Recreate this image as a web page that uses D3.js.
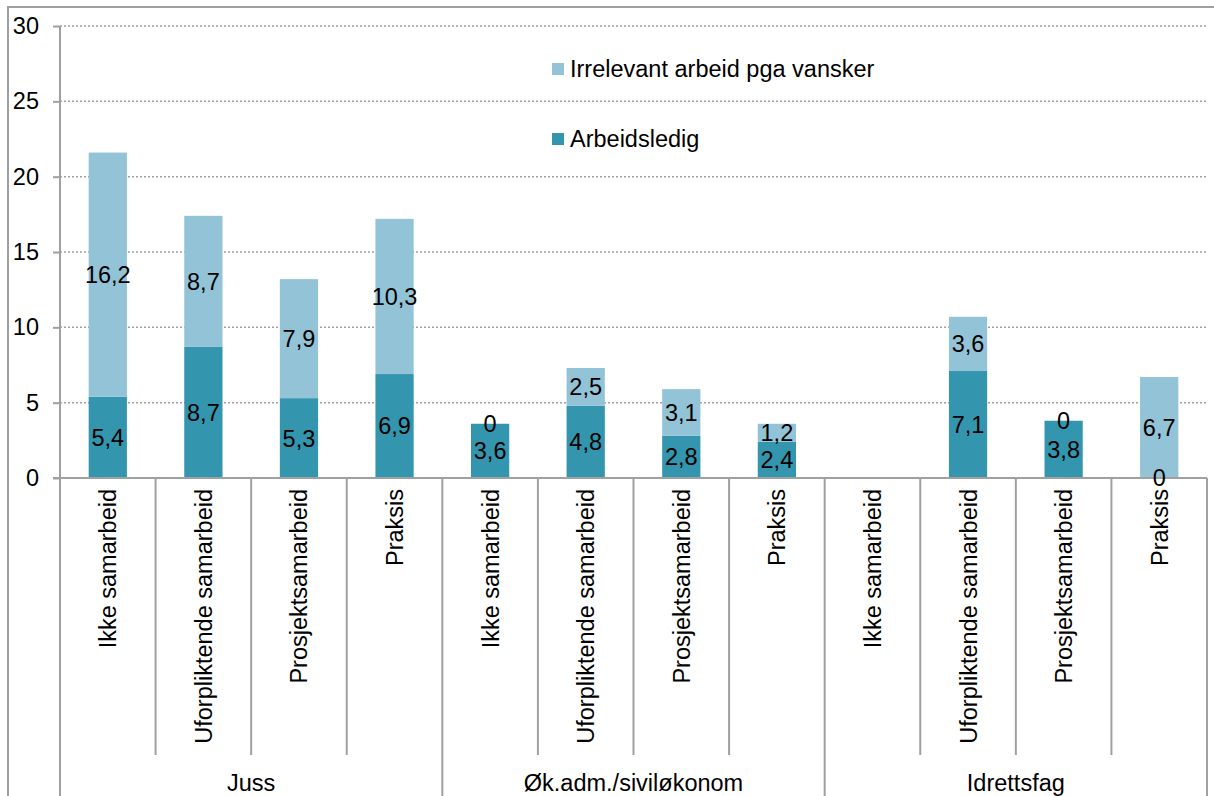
<!DOCTYPE html>
<html>
<head>
<meta charset="utf-8">
<script src="https://cdn.jsdelivr.net/npm/d3@7"></script>
<style>
  body { margin: 0; background: #fff; }
  svg { display: block; font-family: "Liberation Sans", Arial, sans-serif; }
</style>
</head>
<body>
<script>
// data
let groups = ['Juss', 'Øk.adm./siviløkonom', 'Idrettsfag'];
let categories = ['Ikke samarbeid', 'Uforpliktende samarbeid', 'Prosjektsamarbeid', 'Praksis'];
let arbeidsledig = [5.4, 8.7, 5.3, 6.9, 3.6, 4.8, 2.8, 2.4, null, 7.1, 3.8, 0];
let irrelevant = [16.2, 8.7, 7.9, 10.3, 0, 2.5, 3.1, 1.2, null, 3.6, 0, 6.7];
let seriesNames = ['Irrelevant arbeid pga vansker', 'Arbeidsledig'];
let yTicks = [0, 5, 10, 15, 20, 25, 30];

let width = 1214, height = 796;
let left = 60, right = 1207, plotTop = 26, base = 478;
let dark = '#3395ae', light = '#92c3d6', gray = '#a0a0a0';
let fs = '23.5px';

let svg = d3.select('body').append('svg')
    .attr('width', width)
    .attr('height', height);

// chart frame
svg.append('rect')
    .attr('x', 8).attr('y', 7)
    .attr('width', 1300).attr('height', 900)
    .attr('fill', 'none')
    .attr('stroke', gray)
    .attr('stroke-width', 2);

let slots = [];
groups.forEach(function(g, gi) {
    categories.forEach(function(c, ci) {
        slots.push({group: g, cat: c, i: gi * categories.length + ci});
    });
});

let x = d3.scaleBand().domain(d3.range(slots.length)).range([left, right]).padding(0);
let y = d3.scaleLinear().domain([0, 30]).range([base, plotTop]);
let bw = x.bandwidth() * 0.4;

// gridlines
svg.selectAll('line.grid')
    .data(yTicks.filter(function(d) { return d > 0; }))
    .enter()
    .append('line')
    .attr('class', 'grid')
    .attr('x1', left).attr('x2', right)
    .attr('y1', function(d) { return y(d); })
    .attr('y2', function(d) { return y(d); })
    .attr('stroke', gray)
    .attr('stroke-width', 1.5)
    .attr('stroke-dasharray', '2,2');

// y axis
let axisY = d3.axisLeft(y).tickValues(yTicks).tickSize(7).tickPadding(14);
let gy = svg.append('g').attr('transform', `translate(${left},0)`).call(axisY);
gy.select('.domain').remove();
gy.selectAll('.tick line').attr('stroke', gray).attr('stroke-width', 2);
gy.selectAll('.tick text').attr('font-size', fs).attr('fill', '#000')
    .attr('font-family', '"Liberation Sans", Arial, sans-serif');
svg.append('line')
    .attr('x1', left).attr('x2', left)
    .attr('y1', plotTop).attr('y2', height + 5)
    .attr('stroke', gray).attr('stroke-width', 2);

// bars
svg.selectAll('rect.arb')
    .data(slots.filter(function(d) { return arbeidsledig[d.i] != null; }))
    .enter()
    .append('rect')
    .attr('class', 'arb')
    .attr('x', function(d) { return x(d.i) + (x.bandwidth() - bw) / 2; })
    .attr('y', function(d) { return y(arbeidsledig[d.i]); })
    .attr('width', bw)
    .attr('height', function(d) { return base - y(arbeidsledig[d.i]); })
    .attr('fill', dark);

svg.selectAll('rect.irr')
    .data(slots.filter(function(d) { return irrelevant[d.i] != null; }))
    .enter()
    .append('rect')
    .attr('class', 'irr')
    .attr('x', function(d) { return x(d.i) + (x.bandwidth() - bw) / 2; })
    .attr('y', function(d) { return y((arbeidsledig[d.i] || 0) + irrelevant[d.i]); })
    .attr('width', bw)
    .attr('height', function(d) { return y(arbeidsledig[d.i] || 0) - y((arbeidsledig[d.i] || 0) + irrelevant[d.i]); })
    .attr('fill', light);

// x axis line
svg.append('line')
    .attr('x1', left - 7).attr('x2', right)
    .attr('y1', base).attr('y2', base)
    .attr('stroke', gray).attr('stroke-width', 2);

function fmt(v) { return String(v).replace('.', ','); }

// value labels
svg.selectAll('text.arbval')
    .data(slots.filter(function(d) { return arbeidsledig[d.i] != null; }))
    .enter()
    .append('text')
    .attr('class', 'arbval')
    .attr('text-anchor', 'middle')
    .attr('font-size', fs)
    .attr('x', function(d) { return x(d.i) + x.bandwidth() / 2; })
    .attr('y', function(d) { return y(arbeidsledig[d.i] / 2); })
    .attr('dy', '0.36em')
    .text(function(d) { return fmt(arbeidsledig[d.i]); });

svg.selectAll('text.irrval')
    .data(slots.filter(function(d) { return irrelevant[d.i] != null; }))
    .enter()
    .append('text')
    .attr('class', 'irrval')
    .attr('text-anchor', 'middle')
    .attr('font-size', fs)
    .attr('x', function(d) { return x(d.i) + x.bandwidth() / 2; })
    .attr('y', function(d) { return y((arbeidsledig[d.i] || 0) + irrelevant[d.i] / 2); })
    .attr('dy', '0.36em')
    .text(function(d) { return fmt(irrelevant[d.i]); });

// category dividers
svg.selectAll('line.div')
    .data(d3.range(1, slots.length))
    .enter()
    .append('line')
    .attr('class', 'div')
    .attr('x1', function(d) { return x(d); })
    .attr('x2', function(d) { return x(d); })
    .attr('y1', base)
    .attr('y2', function(d) { return d % categories.length == 0 ? height + 5 : 755; })
    .attr('stroke', gray).attr('stroke-width', 2);
svg.append('line')
    .attr('x1', right).attr('x2', right)
    .attr('y1', base).attr('y2', height + 5)
    .attr('stroke', gray).attr('stroke-width', 2);

// category labels
svg.selectAll('text.cat')
    .data(slots)
    .enter()
    .append('text')
    .attr('class', 'cat')
    .attr('text-anchor', 'end')
    .attr('font-size', fs)
    .attr('transform', function(d) {
        return `translate(${x(d.i) + x.bandwidth() / 2},${base + 11}) rotate(-90)`;
    })
    .attr('dy', '0.36em')
    .text(function(d) { return d.cat; });

// group labels
svg.selectAll('text.grp')
    .data(groups)
    .enter()
    .append('text')
    .attr('class', 'grp')
    .attr('text-anchor', 'middle')
    .attr('font-size', fs)
    .attr('x', function(d, i) {
        let n = categories.length;
        return (x(i * n) + x(i * n + n - 1) + x.bandwidth()) / 2;
    })
    .attr('y', 791)
    .text(function(d) { return d; });

// legend
let legend = svg.append('g');
[light, dark].forEach(function(c, i) {
    legend.append('rect')
        .attr('x', 552).attr('y', 63 + i * 70)
        .attr('width', 12).attr('height', 12)
        .attr('fill', c);
    legend.append('text')
        .attr('x', 570).attr('y', 77 + i * 70)
        .attr('font-size', fs)
        .text(seriesNames[i]);
});
</script>
</body>
</html>
